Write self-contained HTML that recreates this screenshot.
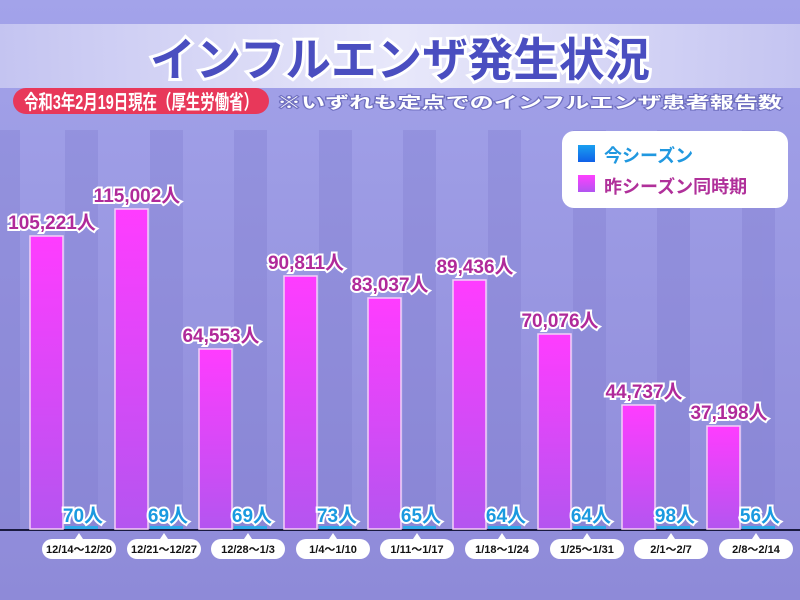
<!DOCTYPE html><html><head><meta charset="utf-8"><style>body{margin:0}svg{display:block}text{font-family:"Liberation Sans","Noto Sans CJK JP",sans-serif;font-weight:bold}</style></head><body>
<svg width="800" height="600" viewBox="0 0 800 600" xmlns="http://www.w3.org/2000/svg">
<defs>
<linearGradient id="bg" x1="0" y1="0" x2="0" y2="1"><stop offset="0" stop-color="#a3a3ea"/><stop offset="1" stop-color="#8e8ad8"/></linearGradient>
<linearGradient id="pk" x1="0" y1="0" x2="0" y2="1"><stop offset="0" stop-color="#ff3cff"/><stop offset="1" stop-color="#b455f0"/></linearGradient>
<linearGradient id="lg" x1="0" y1="0" x2="0" y2="1"><stop offset="0" stop-color="#ff40ff"/><stop offset="1" stop-color="#b055f0"/></linearGradient>
<linearGradient id="lb" x1="0" y1="0" x2="0" y2="1"><stop offset="0" stop-color="#1aa0f0"/><stop offset="1" stop-color="#1060e8"/></linearGradient>
<linearGradient id="band" x1="0" y1="0" x2="1" y2="0"><stop offset="0" stop-color="#c8c8f2"/><stop offset="0.5" stop-color="#f0f0fc"/><stop offset="1" stop-color="#c8c8f2"/></linearGradient>
</defs>
<rect width="800" height="600" fill="url(#bg)"/>
<g fill="#7c78cc" opacity="0.3">
<rect x="0" y="130" width="20" height="400"/><rect x="65" y="130" width="33" height="400"/><rect x="150" y="130" width="33" height="400"/><rect x="234" y="130" width="33" height="400"/><rect x="319" y="130" width="33" height="400"/><rect x="403" y="130" width="33" height="400"/><rect x="488" y="130" width="33" height="400"/><rect x="573" y="130" width="33" height="400"/><rect x="657" y="130" width="33" height="400"/><rect x="742" y="130" width="33" height="400"/>
</g>
<rect x="0" y="24" width="800" height="64" fill="url(#band)" opacity="0.9"/>
<text x="400" y="76" text-anchor="middle" font-size="46" fill="#4a4ec0" stroke="#fff" stroke-width="6" paint-order="stroke" textLength="500" lengthAdjust="spacingAndGlyphs">インフルエンザ発生状況</text>
<rect x="13" y="88" width="256" height="26" rx="13" fill="#e8385a"/>
<text x="24" y="109" font-size="20" fill="#fff" textLength="234" lengthAdjust="spacingAndGlyphs">令和3年2月19日現在（厚生労働省）</text>
<text x="277" y="108" font-size="16" fill="#fff" stroke="#7070c0" stroke-width="2" paint-order="stroke" textLength="505" lengthAdjust="spacingAndGlyphs">※いずれも定点でのインフルエンザ患者報告数</text>
<rect x="562" y="131" width="226" height="77" rx="12" fill="#fff"/>
<rect x="578" y="145" width="17" height="17" fill="url(#lb)"/>
<text x="604" y="162" font-size="18" fill="#2098e0">今シーズン</text>
<rect x="578" y="175" width="17" height="17" fill="url(#lg)"/>
<text x="604" y="193" font-size="18" fill="#b0309a">昨シーズン同時期</text>
<line x1="0" y1="530" x2="800" y2="530" stroke="#1a1a40" stroke-width="2"/>
<g stroke="#f4d0f8" stroke-width="1.5">
<rect x="30" y="236" width="33" height="293" fill="url(#pk)"/>
<rect x="115" y="209" width="33" height="320" fill="url(#pk)"/>
<rect x="199" y="349" width="33" height="180" fill="url(#pk)"/>
<rect x="284" y="276" width="33" height="253" fill="url(#pk)"/>
<rect x="368" y="298" width="33" height="231" fill="url(#pk)"/>
<rect x="453" y="280" width="33" height="249" fill="url(#pk)"/>
<rect x="538" y="334" width="33" height="195" fill="url(#pk)"/>
<rect x="622" y="405" width="33" height="124" fill="url(#pk)"/>
<rect x="707" y="426" width="33" height="103" fill="url(#pk)"/>
</g>
<g fill="#30a8e8">
<rect x="65" y="526" width="33" height="3"/><rect x="150" y="526" width="33" height="3"/><rect x="234" y="526" width="33" height="3"/><rect x="319" y="526" width="33" height="3"/><rect x="403" y="526" width="33" height="3"/><rect x="488" y="526" width="33" height="3"/><rect x="573" y="526" width="33" height="3"/><rect x="657" y="526" width="33" height="3"/><rect x="742" y="526" width="33" height="3"/>
</g>
<g font-size="19" fill="#b02a9a" stroke="#fff" stroke-width="4" paint-order="stroke" text-anchor="middle">
<text x="52" y="229">105,221人</text>
<text x="137" y="202">115,002人</text>
<text x="221" y="342">64,553人</text>
<text x="306" y="269">90,811人</text>
<text x="390" y="291">83,037人</text>
<text x="475" y="273">89,436人</text>
<text x="560" y="327">70,076人</text>
<text x="644" y="398">44,737人</text>
<text x="729" y="419">37,198人</text>
</g>
<g font-size="19" fill="#1a9ae0" stroke="#fff" stroke-width="4" paint-order="stroke" text-anchor="middle">
<text x="83" y="522">70人</text><text x="168" y="522">69人</text><text x="252" y="522">69人</text><text x="337" y="522">73人</text><text x="421" y="522">65人</text><text x="506" y="522">64人</text><text x="591" y="522">64人</text><text x="675" y="522">98人</text><text x="760" y="522">56人</text>
</g>
<g fill="#fff">
<rect x="42" y="539" width="74" height="20" rx="10"/><rect x="127" y="539" width="74" height="20" rx="10"/><rect x="211" y="539" width="74" height="20" rx="10"/><rect x="296" y="539" width="74" height="20" rx="10"/><rect x="380" y="539" width="74" height="20" rx="10"/><rect x="465" y="539" width="74" height="20" rx="10"/><rect x="550" y="539" width="74" height="20" rx="10"/><rect x="634" y="539" width="74" height="20" rx="10"/><rect x="719" y="539" width="74" height="20" rx="10"/>
<path d="M75 539l4-6 4 6zM160 539l4-6 4 6zM244 539l4-6 4 6zM329 539l4-6 4 6zM413 539l4-6 4 6zM498 539l4-6 4 6zM583 539l4-6 4 6zM667 539l4-6 4 6zM752 539l4-6 4 6z"/>
</g>
<g font-size="11" fill="#111" text-anchor="middle">
<text x="79" y="553">12/14～12/20</text><text x="164" y="553">12/21～12/27</text><text x="248" y="553">12/28～1/3</text><text x="333" y="553">1/4～1/10</text><text x="417" y="553">1/11～1/17</text><text x="502" y="553">1/18～1/24</text><text x="587" y="553">1/25～1/31</text><text x="671" y="553">2/1～2/7</text><text x="756" y="553">2/8～2/14</text>
</g>
</svg></body></html>
